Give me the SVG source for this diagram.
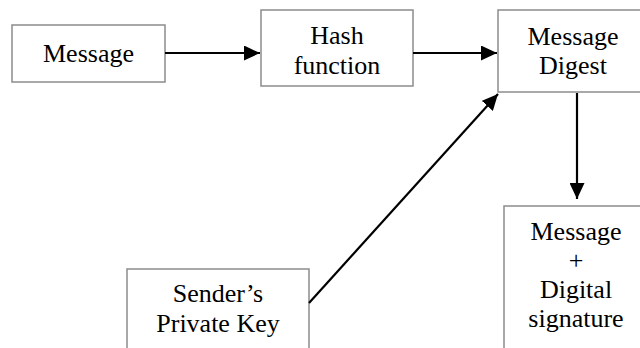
<svg xmlns="http://www.w3.org/2000/svg" width="640" height="348" viewBox="0 0 640 348">
  <style>
    .box { fill: #ffffff; stroke: #8c8c8c; stroke-width: 1.5; }
    .lbl { font-size: 26px; fill: #000000; text-anchor: middle; }
    .edge { stroke: #000000; stroke-width: 2.2; fill: none; marker-end: url(#head); }
  </style>
  <defs>
    <marker id="head" viewBox="0 0 16 15" refX="16" refY="7.5" markerWidth="16" markerHeight="15" markerUnits="userSpaceOnUse" orient="auto">
      <path d="M0,0 L16,7.5 L0,15 Z" fill="#000000"/>
    </marker>
  </defs>
  <rect width="640" height="348" fill="#ffffff"/>

  <g font-family="Liberation Serif, Times New Roman, DejaVu Serif, serif">
    <g id="message">
      <rect class="box" x="12" y="25" width="153" height="57"/>
      <text class="lbl" x="88.5" y="62">Message</text>
    </g>

    <g id="hash-function">
      <rect class="box" x="261" y="10" width="152" height="76"/>
      <text class="lbl" x="337" y="44">Hash</text>
      <text class="lbl" x="337" y="74">function</text>
    </g>

    <g id="message-digest">
      <rect class="box" x="498" y="10" width="150" height="82"/>
      <text class="lbl" x="573" y="45">Message</text>
      <text class="lbl" x="573" y="74">Digest</text>
    </g>

    <g id="signed-message">
      <rect class="box" x="504" y="206" width="144" height="160"/>
      <text class="lbl" x="576" y="240">Message</text>
      <text class="lbl" x="576" y="269">+</text>
      <text class="lbl" x="576" y="298">Digital</text>
      <text class="lbl" x="576" y="327">signature</text>
    </g>

    <g id="private-key">
      <rect class="box" x="127" y="269" width="182" height="100"/>
      <text class="lbl" x="218" y="302">Sender’s</text>
      <text class="lbl" x="218" y="332">Private Key</text>
    </g>
  </g>

  <g id="connectors">
    <line class="edge" x1="165" y1="53" x2="260" y2="53"/>
    <line class="edge" x1="413" y1="53" x2="497" y2="53"/>
    <line class="edge" x1="577" y1="93" x2="577" y2="199"/>
    <line class="edge" x1="309" y1="303" x2="498" y2="94"/>
  </g>
</svg>
